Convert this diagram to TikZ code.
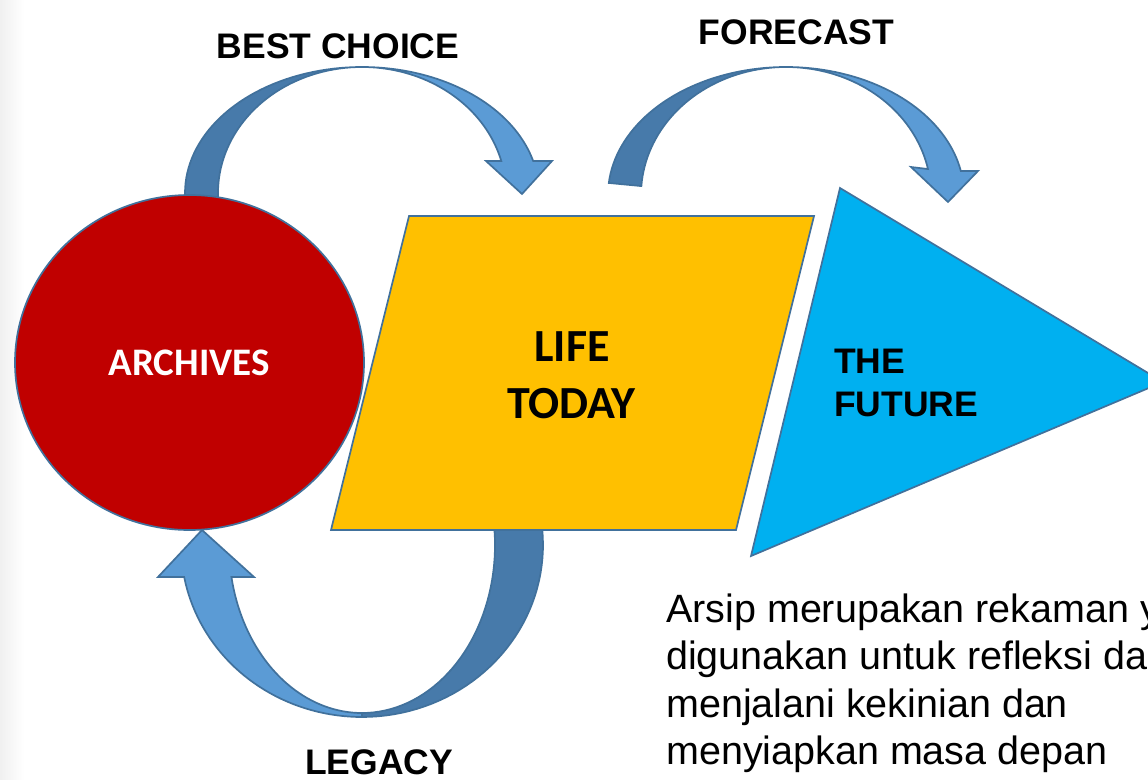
\documentclass[tikz,border=0pt]{standalone}
\usepackage{fontspec}
\setmainfont{Liberation Sans}
\newfontfamily\calib{Carlito}
\definecolor{bordc}{RGB}{65,113,156}
\definecolor{darkblue}{RGB}{71,122,170}
\definecolor{lightblue}{RGB}{91,155,213}
\definecolor{archred}{RGB}{192,0,0}
\definecolor{lifeyellow}{RGB}{255,192,0}
\definecolor{futblue}{RGB}{0,176,240}
\begin{document}
\begin{tikzpicture}[x=1pt,y=-1pt,
  edge/.style={draw=bordc, line width=1.7pt, line join=miter},
  darkband/.style={edge, fill=darkblue},
  lightband/.style={edge, fill=lightblue},
  lbl/.style={font=\fontsize{35.5}{42}\selectfont\bfseries, inner sep=0pt, anchor=base},
  archlbl/.style={font=\calib\fontsize{39}{47}\selectfont\bfseries, text=white, inner sep=0pt, anchor=base},
  lifelbl/.style={font=\calib\fontsize{46}{56}\selectfont\bfseries, inner sep=0pt, anchor=base},
  para/.style={font=\fontsize{39.5}{47.5}\selectfont, inner sep=0pt, anchor=base west}]
\useasboundingbox (0,0) rectangle (1148,779);
\clip (0,0) rectangle (1148,779);
\fill[left color=black!6, right color=white] (0,0) rectangle (24,779);

% BEST CHOICE arrow
\path[darkband] (185,203) -- plot[domain=180:270, samples=40] ({362+177*cos(\x)},{193+126*sin(\x)})
  -- plot[domain=270:180, samples=40] ({362+144*cos(\x)},{193+126*sin(\x)}) -- (218,203) -- cycle;
\coordinate (bctip) at (522,194);
\path[lightband] plot[domain=270:345.3, samples=40] ({362+177*cos(\x)},{193+126*sin(\x)})
  -- (552,161) -- (bctip) -- (486,161)
  -- plot[domain=345.3:270, samples=40] ({362+144*cos(\x)},{193+126*sin(\x)}) -- cycle;

% FORECAST arrow
\path[darkband] plot[domain=185.4:270, samples=40] ({786+178*cos(\x)},{195+128*sin(\x)})
  -- plot[domain=270:184, samples=40] ({786+145*cos(\x)},{195+128*sin(\x)}) -- cycle;
\coordinate (fctip) at (948,202);
\path[lightband] plot[domain=270:349.2, samples=40] ({786+178*cos(\x)},{195+128*sin(\x)})
  -- (978,171) -- (fctip) -- (911,167)
  -- plot[domain=348.3:270, samples=40] ({786+145*cos(\x)},{195+128*sin(\x)}) -- cycle;

% LEGACY arrow
\path[darkband] plot[domain=-8:90, samples=40] ({362+181*cos(\x)},{545+172*sin(\x)})
  -- plot[domain=90:-8, samples=40] ({362+133*cos(\x)},{545+168*sin(\x)}) -- cycle;
\coordinate (lgtip) at (202,530);
\path[lightband] plot[domain=90:169.3, samples=40] ({362+181*cos(\x)},{545+172*sin(\x)})
  -- (158,577) -- (lgtip) -- (254,577)
  -- plot[domain=169:90, samples=40] ({362+133*cos(\x)},{545+168*sin(\x)}) -- cycle;

% shapes
\path[edge, fill=archred] (189.5,362.5) ellipse [x radius=174.5pt, y radius=167.5pt];
\path[edge, fill=lifeyellow] (409,216) -- (814,216) -- (736,530) -- (331,530) -- cycle;
\path[edge, fill=futblue] (840,188) -- (1163,382) -- (751,556) -- cycle;

% labels
\node[lbl] (bc) at (338,58) {BEST CHOICE};
\node[lbl] (fc) at (796.5,44.7) {FORECAST};
\node[lbl, text depth=0pt] (lg) at (379,774) {LEGACY};
\node[archlbl] (arch) at (189,375) {ARCHIVES};
\node[lifelbl] (life1) at (572,361) {LIFE};
\node[lifelbl] (life2) at (571.5,418) {TODAY};
\node[lbl, anchor=base west] (fut1) at (834,373) {THE};
\node[lbl, anchor=base west] (fut2) at (834,416) {FUTURE};

\node[para] (p1) at (666,622) {Arsip merupakan rekaman yang};
\node[para] (p2) at (666,669.5) {digunakan untuk refleksi dalam};
\node[para] (p3) at (666,717) {menjalani kekinian dan};
\node[para] (p4) at (666,764.5) {menyiapkan masa depan};
\end{tikzpicture}
\end{document}
